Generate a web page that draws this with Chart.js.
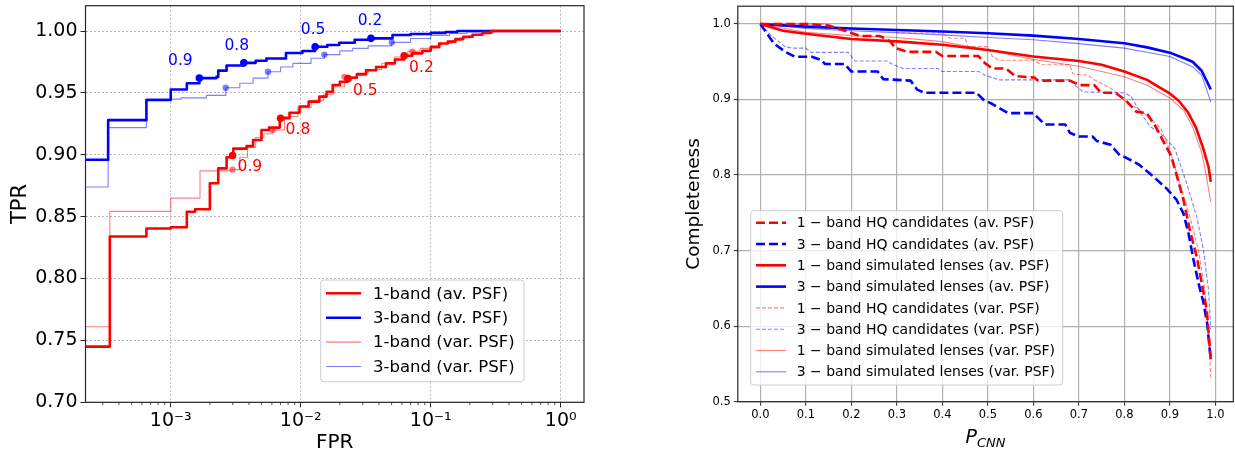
<!DOCTYPE html>
<html>
<head>
<meta charset="utf-8">
<script src="https://cdn.jsdelivr.net/npm/chart.js@4.4.1/dist/chart.umd.min.js"></script>
<style>
  body { margin: 0; background: #fff; }
  #rocBox { position: absolute; left: 0; top: 0; width: 600px; height: 450px; }
  #compBox { position: absolute; left: 660px; top: 0; width: 575px; height: 450px; }
</style>
</head>
<body>
<div id="rocBox"><canvas id="rocChart"></canvas></div>
<div id="compBox"><canvas id="compChart"></canvas></div>
<script>
var FONT = '"DejaVu Sans", sans-serif';
Chart.defaults.font.family = FONT;
Chart.defaults.color = '#000';

// ROC curves (FPR, TPR)
var fpr1Av = [2.21e-4, 3.4e-4, 6.5e-4, 1.0e-3, 1.33e-3, 1.54e-3, 2.0e-3, 2.32e-3, 2.69e-3, 3.03e-3, 3.83e-3, 4.3e-3, 4.99e-3, 5.7e-3, 6.9e-3, 8.2e-3, 9.8e-3, 1.15e-2, 1.39e-2, 1.58e-2, 1.76e-2, 2.0e-2, 2.3e-2, 2.7e-2, 3.18e-2, 3.8e-2, 4.52e-2, 5.3e-2, 6.24e-2, 7.2e-2, 8.63e-2, 0.1, 0.116, 0.135, 0.155, 0.178, 0.21, 0.25, 0.29, 1.0];
var tpr1Av = [0.745, 0.834, 0.8405, 0.8415, 0.854, 0.856, 0.877, 0.889, 0.898, 0.905, 0.907, 0.912, 0.920, 0.922, 0.9296, 0.934, 0.939, 0.943, 0.947, 0.951, 0.9564, 0.959, 0.9623, 0.965, 0.9683, 0.971, 0.9739, 0.977, 0.980, 0.982, 0.984, 0.987, 0.990, 0.9915, 0.9935, 0.9954, 0.997, 0.9985, 1.0, 1.0];

var fpr3Av = [2.21e-4, 3.3e-4, 6.5e-4, 1.0e-3, 1.33e-3, 1.66e-3, 2.25e-3, 2.32e-3, 2.69e-3, 3.65e-3, 4.5e-3, 5.45e-3, 7.7e-3, 1.03e-2, 1.29e-2, 1.6e-2, 1.98e-2, 2.6e-2, 3.47e-2, 5.08e-2, 7.0e-2, 0.1, 0.13, 0.16, 1.0];
var tpr3Av = [0.896, 0.928, 0.9443, 0.9528, 0.9578, 0.962, 0.963, 0.968, 0.9722, 0.9743, 0.976, 0.9778, 0.9823, 0.9839, 0.9873, 0.9888, 0.9906, 0.993, 0.9941, 0.9968, 0.9976, 0.9985, 0.9993, 1.0, 1.0];

var fpr1Var = [2.21e-4, 3.4e-4, 1.0e-3, 1.68e-3, 2.9e-3, 3.4e-3, 3.9e-3, 4.5e-3, 5.2e-3, 6.07e-3, 7.5e-3, 9.5e-3, 1.2e-2, 1.5e-2, 1.8e-2, 2.17e-2, 2.7e-2, 3.3e-2, 4.2e-2, 5.3e-2, 6.67e-2, 8.3e-2, 0.1, 0.12, 0.145, 0.17, 0.2, 0.24, 0.3, 1.0];
var tpr1Var = [0.761, 0.8543, 0.865, 0.887, 0.888, 0.898, 0.906, 0.914, 0.917, 0.920, 0.931, 0.938, 0.944, 0.949, 0.955, 0.963, 0.966, 0.969, 0.974, 0.979, 0.9838, 0.986, 0.988, 0.990, 0.9925, 0.9945, 0.9965, 0.998, 1.0, 1.0];

var fpr3Var = [2.21e-4, 3.3e-4, 6.5e-4, 1.2e-3, 1.88e-3, 2.65e-3, 3.4e-3, 4.3e-3, 5.6e-3, 7.0e-3, 8.7e-3, 1.2e-2, 1.52e-2, 2.0e-2, 2.51e-2, 3.3e-2, 5.02e-2, 7.0e-2, 0.1, 0.14, 0.19, 0.24, 1.0];
var tpr3Var = [0.874, 0.922, 0.945, 0.946, 0.948, 0.9542, 0.9578, 0.962, 0.9671, 0.971, 0.9739, 0.978, 0.981, 0.984, 0.986, 0.988, 0.9909, 0.994, 0.9965, 0.998, 0.9993, 1.0, 1.0];

// P_CNN thresholds marked on the ROC curves
var thresholds = ['0.9', '0.8', '0.5', '0.2'];
var mark1AvFpr = [2.99e-3, 7.0e-3, 2.31e-2, 6.24e-2];
var mark1AvTpr = [0.8995, 0.9296, 0.9616, 0.980];
var mark3AvFpr = [1.66e-3, 3.65e-3, 1.29e-2, 3.47e-2];
var mark3AvTpr = [0.962, 0.9743, 0.9873, 0.9941];
var mark1VarFpr = [2.99e-3, 6.07e-3, 2.17e-2, 7.23e-2];
var mark1VarTpr = [0.888, 0.920, 0.963, 0.9833];
var mark3VarFpr = [2.65e-3, 5.6e-3, 1.52e-2, 5.02e-2];
var mark3VarTpr = [0.9542, 0.9671, 0.981, 0.9909];

var rocLabels = ['1-band (av. PSF)', '3-band (av. PSF)', '1-band (var. PSF)', '3-band (var. PSF)'];
var fprDecades = [1e-3, 1e-2, 1e-1, 1];
var tprTicks = [0.70, 0.75, 0.80, 0.85, 0.90, 0.95, 1.00];

// Completeness vs P_CNN
var hq1AvP = [0, 0.1, 0.15, 0.19, 0.2, 0.22, 0.263, 0.286, 0.297, 0.324, 0.386, 0.4, 0.479, 0.494, 0.51, 0.54, 0.56, 0.602, 0.61, 0.68, 0.703, 0.734, 0.749, 0.78, 0.803, 0.826, 0.849, 0.869, 0.888, 0.903, 0.915, 0.93, 0.944, 0.959, 0.97, 0.981, 0.99];
var hq1AvC = [1.0, 1.0, 0.998, 0.990, 0.988, 0.984, 0.984, 0.9766, 0.968, 0.963, 0.963, 0.9576, 0.9576, 0.948, 0.941, 0.941, 0.931, 0.929, 0.925, 0.925, 0.919, 0.919, 0.909, 0.909, 0.899, 0.884, 0.882, 0.864, 0.842, 0.825, 0.80, 0.767, 0.727, 0.692, 0.657, 0.622, 0.556];

var hq3AvP = [0, 0.015, 0.03, 0.055, 0.076, 0.113, 0.135, 0.142, 0.185, 0.2, 0.258, 0.27, 0.33, 0.345, 0.36, 0.475, 0.49, 0.51, 0.53, 0.545, 0.6, 0.625, 0.67, 0.68, 0.7, 0.73, 0.74, 0.77, 0.79, 0.8, 0.82, 0.834, 0.864, 0.893, 0.915, 0.93, 0.941, 0.952, 0.963, 0.974, 0.982, 0.99];
var hq3AvC = [1.0, 0.987, 0.974, 0.963, 0.9566, 0.9566, 0.952, 0.947, 0.947, 0.937, 0.937, 0.927, 0.925, 0.913, 0.909, 0.909, 0.9, 0.894, 0.887, 0.882, 0.882, 0.867, 0.867, 0.856, 0.851, 0.851, 0.845, 0.84, 0.826, 0.824, 0.818, 0.813, 0.798, 0.782, 0.767, 0.749, 0.723, 0.688, 0.657, 0.631, 0.604, 0.555];

var sim1AvP = [0, 0.05, 0.1, 0.2, 0.3, 0.4, 0.5, 0.6, 0.7, 0.75, 0.8, 0.85, 0.88, 0.9, 0.92, 0.94, 0.958, 0.973, 0.985, 0.99];
var sim1AvC = [1.0, 0.991, 0.987, 0.980, 0.977, 0.9725, 0.9656, 0.957, 0.951, 0.946, 0.937, 0.926, 0.915, 0.908, 0.898, 0.883, 0.862, 0.836, 0.811, 0.791];

var sim3AvP = [0, 0.1, 0.2, 0.3, 0.4, 0.5, 0.6, 0.7, 0.8, 0.85, 0.9, 0.93, 0.95, 0.97, 0.99];
var sim3AvC = [1.0, 0.9965, 0.994, 0.992, 0.990, 0.9876, 0.9845, 0.980, 0.9744, 0.969, 0.962, 0.955, 0.950, 0.938, 0.9135];

var hq1VarP = [0, 0.147, 0.154, 0.185, 0.29, 0.3, 0.4, 0.417, 0.45, 0.456, 0.5, 0.51, 0.525, 0.6, 0.618, 0.68, 0.687, 0.72, 0.734, 0.77, 0.788, 0.80, 0.834, 0.857, 0.88, 0.90, 0.922, 0.944, 0.963, 0.977, 0.985, 0.99];
var hq1VarC = [1.0, 1.0, 0.9956, 0.993, 0.993, 0.988, 0.988, 0.981, 0.981, 0.970, 0.970, 0.957, 0.952, 0.952, 0.946, 0.946, 0.934, 0.932, 0.926, 0.915, 0.906, 0.899, 0.886, 0.875, 0.862, 0.833, 0.789, 0.745, 0.70, 0.648, 0.591, 0.532];

var hq3VarP = [0, 0.023, 0.054, 0.069, 0.1, 0.112, 0.193, 0.208, 0.28, 0.286, 0.313, 0.39, 0.4, 0.48, 0.494, 0.525, 0.68, 0.695, 0.71, 0.8, 0.815, 0.834, 0.857, 0.88, 0.911, 0.937, 0.959, 0.974, 0.985, 0.99];
var hq3VarC = [1.0, 0.985, 0.970, 0.968, 0.968, 0.9624, 0.9624, 0.951, 0.951, 0.948, 0.941, 0.941, 0.937, 0.937, 0.932, 0.926, 0.926, 0.917, 0.910, 0.909, 0.904, 0.884, 0.864, 0.855, 0.835, 0.789, 0.745, 0.701, 0.648, 0.596];

var sim1VarP = [0, 0.1, 0.2, 0.3, 0.4, 0.5, 0.6, 0.7, 0.8, 0.85, 0.9, 0.93, 0.95, 0.97, 0.98, 0.99];
var sim1VarC = [1.0, 0.989, 0.9845, 0.982, 0.9766, 0.9656, 0.953, 0.944, 0.930, 0.919, 0.902, 0.886, 0.864, 0.83, 0.80, 0.764];

var sim3VarP = [0, 0.1, 0.2, 0.3, 0.4, 0.5, 0.6, 0.7, 0.8, 0.9, 0.95, 0.97, 0.99];
var sim3VarC = [1.0, 0.994, 0.991, 0.9885, 0.9855, 0.982, 0.979, 0.974, 0.968, 0.957, 0.9435, 0.932, 0.897];

var compLabels = [
    '1 \u2212 band HQ candidates (av. PSF)',
    '3 \u2212 band HQ candidates (av. PSF)',
    '1 \u2212 band simulated lenses (av. PSF)',
    '3 \u2212 band simulated lenses (av. PSF)',
    '1 \u2212 band HQ candidates (var. PSF)',
    '3 \u2212 band HQ candidates (var. PSF)',
    '1 \u2212 band simulated lenses (var. PSF)',
    '3 \u2212 band simulated lenses (var. PSF)'
];

var RED = '#ff0000', BLUE = '#0000ff';
var RED_A = 'rgba(255,0,0,0.5)', BLUE_A = 'rgba(0,0,255,0.5)';
var SUP = { '-': '\u207b', '0': '\u2070', '1': '\u00b9', '2': '\u00b2', '3': '\u00b3' };

function pts(xs, ys) {
    return xs.map(function (x, i) { return { x: x, y: ys[i] }; });
}

function powLabel(v) {
    var e = String(Math.round(Math.log10(v)));
    return '10' + e.split('').map(function (c) { return SUP[c]; }).join('');
}

function drawFrame(chart) {
    var a = chart.chartArea, ctx = chart.ctx;
    ctx.save();
    ctx.strokeStyle = '#262626';
    ctx.lineWidth = 1.2;
    ctx.strokeRect(a.left, a.top, a.right - a.left, a.bottom - a.top);
    ctx.restore();
}

// legend box drawn by hand so it sits where the original one is
function drawLegend(chart, lg) {
    var ctx = chart.ctx;
    ctx.save();
    ctx.beginPath();
    ctx.roundRect(lg.x, lg.y, lg.w, lg.h, 3);
    ctx.fillStyle = 'rgba(255,255,255,0.8)';
    ctx.fill();
    ctx.strokeStyle = '#cccccc';
    ctx.lineWidth = 1;
    ctx.stroke();
    var row = 0;
    chart.data.datasets.forEach(function (ds) {
        if (ds.isMarker) return;
        var y = lg.row0 + row * lg.gap;
        ctx.beginPath();
        ctx.setLineDash(ds.borderDash || []);
        ctx.strokeStyle = ds.borderColor;
        ctx.lineWidth = ds.borderWidth;
        ctx.moveTo(lg.sx, y);
        ctx.lineTo(lg.sx + lg.sw, y);
        ctx.stroke();
        ctx.setLineDash([]);
        ctx.fillStyle = '#000';
        ctx.font = lg.font + 'px ' + FONT;
        ctx.textBaseline = 'middle';
        ctx.textAlign = 'left';
        ctx.fillText(ds.label, lg.tx, y + 1);
        row++;
    });
    ctx.restore();
}

function lineSet(label, xs, ys, color, width, dash, stepped) {
    return {
        label: label, data: pts(xs, ys), borderColor: color, backgroundColor: color,
        borderWidth: width, borderDash: dash, stepped: stepped, pointRadius: 0,
        tension: 0, fill: false, borderCapStyle: 'butt', borderJoinStyle: 'round'
    };
}

function markSet(xs, ys, color, r, labelInfo) {
    return {
        isMarker: true, data: pts(xs, ys), showLine: false, pointRadius: r,
        pointBackgroundColor: color, pointBorderWidth: 0, borderColor: color, labelInfo: labelInfo
    };
}

// Gráfico ROC
var rocDecor = {
    id: 'rocDecor',
    afterDatasetsDraw: function (chart) {
        var ctx = chart.ctx, a = chart.chartArea, xs = chart.scales.x;
        ctx.save();
        chart.data.datasets.forEach(function (ds, i) {
            if (!ds.labelInfo) return;
            var info = ds.labelInfo;
            var meta = chart.getDatasetMeta(i);
            ctx.fillStyle = info.color;
            ctx.font = '15.5px ' + FONT;
            ctx.textBaseline = 'middle';
            ctx.textAlign = info.align;
            meta.data.forEach(function (p, j) {
                ctx.fillText(thresholds[j], p.x + info.dx[j], p.y + info.dy);
            });
        });
        // minor ticks of the log axis
        ctx.strokeStyle = '#262626';
        ctx.lineWidth = 0.8;
        [1e-4, 1e-3, 1e-2, 1e-1].forEach(function (d) {
            for (var m = 2; m < 10; m++) {
                var v = m * d;
                if (v <= xs.min || v >= xs.max) continue;
                var px = xs.getPixelForValue(v);
                ctx.beginPath();
                ctx.moveTo(px, a.bottom);
                ctx.lineTo(px, a.bottom + 2.8);
                ctx.stroke();
            }
        });
        ctx.restore();
    },
    afterDraw: function (chart) {
        var ctx = chart.ctx, a = chart.chartArea;
        drawFrame(chart);
        drawLegend(chart, { x: 320.7, y: 280, w: 203.3, h: 101.7, row0: 293.3, gap: 24.4, sx: 326, sw: 35, tx: 373, font: 16.5 });
        ctx.save();
        ctx.fillStyle = '#000';
        ctx.font = '20px ' + FONT;
        ctx.textAlign = 'center';
        ctx.textBaseline = 'alphabetic';
        ctx.fillText('FPR', (a.left + a.right) / 2, 448);
        ctx.font = '21px ' + FONT;
        ctx.translate(26, (a.top + a.bottom) / 2);
        ctx.rotate(-Math.PI / 2);
        ctx.fillText('TPR', 0, 0);
        ctx.restore();
    }
};

var ctxRoc = document.getElementById('rocChart').getContext('2d');
var rocChart = new Chart(ctxRoc, {
    type: 'line',
    data: {
        datasets: [
            markSet(mark1AvFpr, mark1AvTpr, RED, 3.8, { color: RED, align: 'left', dx: [5, 5, 5, 5], dy: 12 }),
            markSet(mark3AvFpr, mark3AvTpr, BLUE, 3.8, { color: BLUE, align: 'center', dx: [-19, -7, -2, -1], dy: -17 }),
            markSet(mark1VarFpr, mark1VarTpr, RED_A, 3.2, null),
            markSet(mark3VarFpr, mark3VarTpr, BLUE_A, 3.2, null),
            lineSet(rocLabels[0], fpr1Av, tpr1Av, RED, 2.6, [], true),
            lineSet(rocLabels[1], fpr3Av, tpr3Av, BLUE, 2.6, [], true),
            lineSet(rocLabels[2], fpr1Var, tpr1Var, RED_A, 1.1, [], true),
            lineSet(rocLabels[3], fpr3Var, tpr3Var, BLUE_A, 1.1, [], true)
        ]
    },
    options: {
        responsive: true,
        maintainAspectRatio: false,
        animation: false,
        events: [],
        layout: { padding: { top: 5.7, right: 16, left: 0, bottom: 0 } },
        plugins: { legend: { display: false }, tooltip: { enabled: false } },
        scales: {
            x: {
                type: 'logarithmic',
                min: 2.21e-4,
                max: 1.51,
                afterBuildTicks: function (s) { s.ticks = fprDecades.map(function (v) { return { value: v }; }); },
                afterFit: function (s) { s.height = 450 - 402.3; s.paddingLeft = 0; s.paddingRight = 0; },
                ticks: { autoSkip: false, maxRotation: 0, padding: 2, font: { size: 19 }, callback: function (v) { return powLabel(v); } },
                grid: { color: '#b0b0b0', lineWidth: 0.9, tickLength: 5, tickColor: '#262626', tickWidth: 1 },
                border: { display: false, dash: [2, 2] }
            },
            y: {
                min: 0.70,
                max: 1.0205,
                afterBuildTicks: function (s) { s.ticks = tprTicks.map(function (v) { return { value: v }; }); },
                afterFit: function (s) { s.width = 85.5; s.paddingTop = 0; s.paddingBottom = 0; },
                ticks: { padding: 3, font: { size: 19 }, callback: function (v) { return v.toFixed(2); } },
                grid: { color: '#b0b0b0', lineWidth: 0.9, tickLength: 5, tickColor: '#262626', tickWidth: 1 },
                border: { display: false, dash: [2, 2] }
            }
        }
    },
    plugins: [rocDecor]
});

// Gráfico Completeness x P_CNN
var compDecor = {
    id: 'compDecor',
    afterDraw: function (chart) {
        var ctx = chart.ctx, a = chart.chartArea;
        drawFrame(chart);
        drawLegend(chart, { x: 90.7, y: 210.7, w: 312, h: 174.3, row0: 222.7, gap: 21.3, sx: 96, sw: 30, tx: 136.7, font: 14 });
        ctx.save();
        ctx.fillStyle = '#000';
        ctx.textBaseline = 'alphabetic';
        ctx.textAlign = 'left';
        var cx = (a.left + a.right) / 2;
        ctx.font = 'italic 19px ' + FONT;
        var wP = ctx.measureText('P').width;
        ctx.font = 'italic 13px ' + FONT;
        var wS = ctx.measureText('CNN').width;
        var x0 = cx - (wP + wS) / 2;
        ctx.font = 'italic 19px ' + FONT;
        ctx.fillText('P', x0, 443);
        ctx.font = 'italic 13px ' + FONT;
        ctx.fillText('CNN', x0 + wP, 447);
        ctx.font = '18.5px ' + FONT;
        ctx.textAlign = 'center';
        ctx.translate(39, (a.top + a.bottom) / 2);
        ctx.rotate(-Math.PI / 2);
        ctx.fillText('Completeness', 0, 0);
        ctx.restore();
    }
};

var ctxComp = document.getElementById('compChart').getContext('2d');
var compChart = new Chart(ctxComp, {
    type: 'line',
    data: {
        datasets: [
            lineSet(compLabels[0], hq1AvP, hq1AvC, RED, 2.6, [9, 4], false),
            lineSet(compLabels[1], hq3AvP, hq3AvC, BLUE, 2.6, [9, 4], false),
            lineSet(compLabels[2], sim1AvP, sim1AvC, RED, 2.6, [], false),
            lineSet(compLabels[3], sim3AvP, sim3AvC, BLUE, 2.6, [], false),
            lineSet(compLabels[4], hq1VarP, hq1VarC, RED_A, 1.1, [4, 2], false),
            lineSet(compLabels[5], hq3VarP, hq3VarC, BLUE_A, 1.1, [4, 2], false),
            lineSet(compLabels[6], sim1VarP, sim1VarC, RED_A, 1.1, [], false),
            lineSet(compLabels[7], sim3VarP, sim3VarC, BLUE_A, 1.1, [], false)
        ]
    },
    options: {
        responsive: true,
        maintainAspectRatio: false,
        animation: false,
        events: [],
        layout: { padding: { top: 6.2, right: 1.7, left: 0, bottom: 0 } },
        plugins: { legend: { display: false }, tooltip: { enabled: false } },
        scales: {
            x: {
                type: 'linear',
                min: -0.0495,
                max: 1.0395,
                afterFit: function (s) { s.height = 450 - 401.7; s.paddingLeft = 0; s.paddingRight = 0; },
                ticks: { stepSize: 0.1, includeBounds: false, autoSkip: false, maxRotation: 0, padding: 2, font: { size: 11.5 }, callback: function (v) { return v.toFixed(1); } },
                grid: { color: '#b0b0b0', lineWidth: 1.2, tickLength: 4, tickColor: '#262626', tickWidth: 1 },
                border: { display: false }
            },
            y: {
                min: 0.5,
                max: 1.0235,
                afterFit: function (s) { s.width = 77.8; s.paddingTop = 0; s.paddingBottom = 0; },
                ticks: { stepSize: 0.1, includeBounds: false, padding: 3, font: { size: 11.5 }, callback: function (v) { return v.toFixed(1); } },
                grid: { color: '#b0b0b0', lineWidth: 1.2, tickLength: 4, tickColor: '#262626', tickWidth: 1 },
                border: { display: false }
            }
        }
    },
    plugins: [compDecor]
});
</script>
</body>
</html>
